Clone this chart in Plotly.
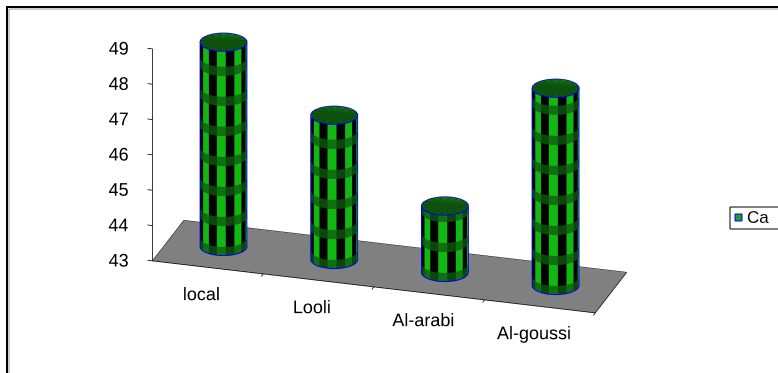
import numpy as np
import plotly.graph_objects as go

# ---- data -------------------------------------------------------------
categories = ["local", "Looli", "Al-arabi", "Al-goussi"]
values = [48.8, 47.1, 44.9, 48.6]
series_name = "Ca"
z_ticks = [43, 44, 45, 46, 47, 48, 49]
z_min, z_max = 43, 49

# ---- geometry settings ------------------------------------------------
W, H = 778, 373
radius = 0.2          # cylinder radius in category units (gap width 150%)
half_depth = 0.47     # floor half depth in category units
n_seg = 32            # angular segments of each cylinder
period = 0.85         # height of one pattern repeat (value units)
band = 0.26           # height of the dark checker band inside a repeat
unit_xy = 0.62        # scene size of one category unit
unit_z = 0.2057       # scene size of one value unit

x_rng = [-0.9, len(categories) - 0.48]
y_rng = [-half_depth - 0.3, half_depth + 0.02]
z_rng = [42.6, z_max + 0.02]

GREEN = "#16e616"
BLACK = "#040404"
BAND_A = "#0b5a0b"
BAND_B = "#168a16"
CAP_A = "#0f5f0f"
CAP_B = "#136d13"
EDGE = "#0000ff"

eye_dir = np.array([0.326, -0.882, 0.34])
eye_dir = eye_dir / np.linalg.norm(eye_dir)


def cylinder_mesh(xc, top):
    """Checkered cylinder standing on the floor, drawn as one mesh."""
    breaks = [z_min]
    z = z_min
    while z < top:
        for step in (band, period - band):
            z = min(z + step, top)
            if z > breaks[-1]:
                breaks.append(z)
            if z >= top:
                break
    ang = np.linspace(0, 2 * np.pi, n_seg, endpoint=False)
    xs, ys, zs = [], [], []
    for zb in breaks:
        xs.extend(xc + radius * np.cos(ang))
        ys.extend(radius * np.sin(ang))
        zs.extend([zb] * n_seg)
    I, J, K, C = [], [], [], []
    for r in range(len(breaks) - 1):
        rel = (breaks[r] - z_min) % period
        in_band = rel < band - 1e-9
        for a in range(n_seg):
            b = (a + 1) % n_seg
            p0, p1 = r * n_seg + a, r * n_seg + b
            q0, q1 = (r + 1) * n_seg + a, (r + 1) * n_seg + b
            even = (a // 2) % 2 == 0
            if in_band:
                col = BAND_B if even else BAND_A
            else:
                col = GREEN if even else BLACK
            I += [p0, p0]
            J += [p1, q1]
            K += [q1, q0]
            C += [col, col]
    # top cap
    centre = len(xs)
    xs.append(xc)
    ys.append(0.0)
    zs.append(top)
    base = (len(breaks) - 1) * n_seg
    for a in range(n_seg):
        b = (a + 1) % n_seg
        I.append(centre)
        J.append(base + a)
        K.append(base + b)
        C.append(CAP_A if a % 2 == 0 else CAP_B)
    return go.Mesh3d(
        x=xs, y=ys, z=zs, i=I, j=J, k=K, facecolor=C,
        flatshading=False, showlegend=False, hoverinfo="skip",
        lighting=dict(ambient=0.8, diffuse=0.35, specular=0.15,
                      roughness=0.7, fresnel=0.05),
        lightposition=dict(x=-200, y=-1000, z=600),
    )


def outline(xc, top):
    """Blue rim lines: top and bottom circles plus the two silhouettes."""
    t = np.linspace(0, 2 * np.pi, 97)
    r = radius * 1.015
    traces = []
    for zz in (top, z_min + 0.02):
        traces.append(go.Scatter3d(
            x=xc + r * np.cos(t), y=r * np.sin(t), z=[zz] * len(t),
            mode="lines", line=dict(color=EDGE, width=2),
            showlegend=False, hoverinfo="skip"))
    perp = np.arctan2(eye_dir[0], -eye_dir[1])
    for s in (perp, perp + np.pi):
        traces.append(go.Scatter3d(
            x=[xc + r * np.cos(s)] * 2, y=[r * np.sin(s)] * 2, z=[z_min, top],
            mode="lines", line=dict(color=EDGE, width=2),
            showlegend=False, hoverinfo="skip"))
    return traces


def seg(xs, ys, zs, color="black", width=1.5):
    return go.Scatter3d(x=xs, y=ys, z=zs, mode="lines",
                        line=dict(color=color, width=width),
                        showlegend=False, hoverinfo="skip")


fig = go.Figure()
text_font = dict(family="Liberation Sans, Arial, sans-serif", size=18, color="black")

# floor
x0, x1 = -0.5, len(categories) - 0.5
y0, y1 = -half_depth, half_depth
fig.add_trace(go.Mesh3d(
    x=[x0, x1, x1, x0], y=[y0, y0, y1, y1], z=[z_min] * 4,
    i=[0, 0], j=[1, 2], k=[2, 3], color="#808080",
    lighting=dict(ambient=1.0, diffuse=0.0, specular=0.0),
    showlegend=False, hoverinfo="skip"))
fig.add_trace(seg([x0, x1, x1, x0, x0], [y0, y0, y1, y1, y0], [z_min] * 5))

# category separator ticks on the front edge
for k in range(1, len(categories) + 1):
    xb = k - 0.5
    fig.add_trace(seg([xb, xb], [y0, y0 - 0.06], [z_min, z_min]))

# category labels under the front edge
fig.add_trace(go.Scatter3d(
    x=list(range(len(categories))), y=[y0 - 0.2] * len(categories),
    z=[z_min + 0.2] * len(categories), mode="text", text=categories,
    textposition="bottom center", textfont=text_font,
    showlegend=False, hoverinfo="skip"))

# value axis at the front-left corner of the floor
fig.add_trace(seg([x0, x0], [y0, y0], [z_min, z_max]))
for zt in z_ticks:
    fig.add_trace(seg([x0, x0 - 0.045], [y0, y0], [zt, zt]))
fig.add_trace(go.Scatter3d(
    x=[x0 - 0.06] * len(z_ticks), y=[y0] * len(z_ticks), z=z_ticks,
    mode="text", text=[str(t) for t in z_ticks], textposition="middle left",
    textfont=text_font, showlegend=False, hoverinfo="skip"))

for i, v in enumerate(values):
    fig.add_trace(cylinder_mesh(i, v))
    for tr in outline(i, v):
        fig.add_trace(tr)

hidden = dict(showticklabels=False, ticks="", showgrid=False,
              showbackground=False, zeroline=False, showline=False,
              showspikes=False, title="")
r_eye = 1.6
fig.update_layout(
    width=W, height=H,
    margin=dict(l=0, r=0, t=0, b=0, autoexpand=False),
    paper_bgcolor="white",
    showlegend=False,
    scene=dict(
        domain=dict(x=[0.0, 0.98], y=[0.0, 1.0]),
        xaxis=dict(range=x_rng, **hidden),
        yaxis=dict(range=y_rng, **hidden),
        zaxis=dict(range=z_rng, **hidden),
        aspectmode="manual",
        aspectratio=dict(x=unit_xy * (x_rng[1] - x_rng[0]),
                         y=unit_xy * (y_rng[1] - y_rng[0]),
                         z=unit_z * (z_rng[1] - z_rng[0])),
        camera=dict(eye=dict(x=r_eye * eye_dir[0], y=r_eye * eye_dir[1],
                             z=r_eye * eye_dir[2]),
                    center=dict(x=0.096, y=0, z=-0.079),
                    projection=dict(type="orthographic")),
    ),
)

# chart frame
fig.add_shape(type="rect", xref="paper", yref="paper",
              x0=7 / W, x1=1.05, y0=1 - 7 / H, y1=-0.05,
              line=dict(color="black", width=2))
fig.add_shape(type="rect", xref="paper", yref="paper",
              x0=9 / W, x1=1.05, y0=1 - 9 / H, y1=-0.05,
              line=dict(color="#9a9a9a", width=1))

# legend box
lx0, ly0, ly1 = 730, 207, 229
fig.add_shape(type="rect", xref="paper", yref="paper",
              x0=lx0 / W, x1=1.05, y0=1 - ly0 / H, y1=1 - ly1 / H,
              line=dict(color="black", width=1), fillcolor="white")
fig.add_shape(type="rect", xref="paper", yref="paper",
              x0=735 / W, x1=742 / W, y0=1 - 214 / H, y1=1 - 221 / H,
              line=dict(color=EDGE, width=1), fillcolor="#1ea01e")
fig.add_annotation(text=series_name, xref="paper", yref="paper",
                   x=745 / W, y=1 - 218 / H, xanchor="left", yanchor="middle",
                   showarrow=False,
                   font=dict(family="Liberation Sans, Arial, sans-serif",
                             size=17, color="black"))

fig.write_html("out.html")
